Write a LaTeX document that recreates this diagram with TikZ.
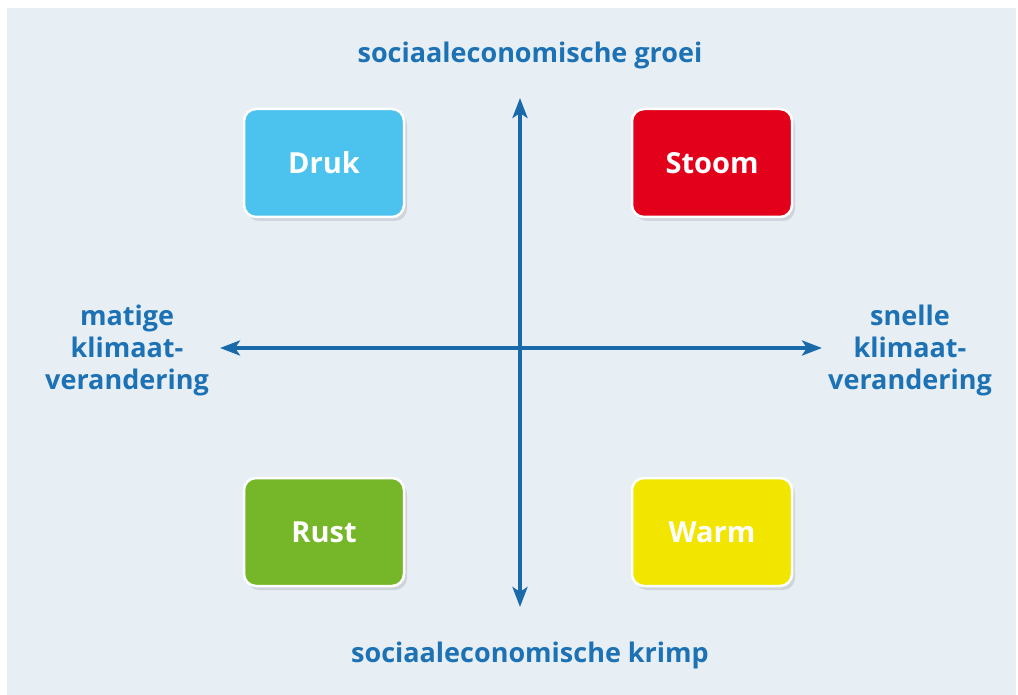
\documentclass[tikz,border=0pt]{standalone}
\usepackage{fontspec}
\setmainfont{Open Sans}
\usepackage{tikz}
\usetikzlibrary{arrows.meta,shadows}
\definecolor{axisblue}{HTML}{1A69AA}
\definecolor{textblue}{HTML}{1C72B4}
\definecolor{bgblue}{HTML}{E7EEF4}
\definecolor{drukblue}{HTML}{4CC3EE}
\definecolor{stoomred}{HTML}{E3001B}
\definecolor{rustgreen}{HTML}{76B72A}
\definecolor{warmyellow}{HTML}{F2E600}
\tikzset{
  box/.style={draw=white,line width=2.5pt,rounded corners=12pt,minimum width=160pt,minimum height=108pt,
    text=white,font=\fontsize{29}{30}\selectfont\bfseries,
    drop shadow={shadow xshift=3pt,shadow yshift=-4pt,opacity=0.18,fill=black!60}},
  axlab/.style={text=textblue,font=\fontsize{27}{32}\selectfont\bfseries,align=center},
  axis/.style={axisblue,line width=4pt,{Stealth[length=20pt,width=15pt,inset=5pt]}-{Stealth[length=20pt,width=15pt,inset=5pt]}},
}
\begin{document}
\begin{tikzpicture}[x=1pt,y=-1pt]
      \useasboundingbox (0,0) rectangle (1018,695);
      \fill[white] (0,0) rectangle (1018,695);
      \fill[bgblue] (7,8) rectangle (1016,695);
      % axes
      \coordinate (top) at (520,98);
      \coordinate (bot) at (520,607);
      \coordinate (lft) at (220,348);
      \coordinate (rgt) at (822,348);
      \draw[axis] (bot) -- (top);
      \draw[axis] (lft) -- (rgt);
      % scenarios
      \node[box,fill=drukblue] (druk) at (324,163) {Druk};
      \node[box,fill=stoomred] (stoom) at (712,163) {Stoom};
      \node[box,fill=rustgreen] (rust) at (324,532) {Rust};
      \node[box,fill=warmyellow] (warm) at (712,532) {Warm};
      % axis labels
      \node[axlab] (groei) at (530,55) {sociaaleconomische groei};
      \node[axlab] (krimp) at (530,655) {sociaaleconomische krimp};
      \node[axlab] (matig) at (127,350) {matige\\klimaat-\\verandering};
      \node[axlab] (snel) at (910,350) {snelle\\klimaat-\\verandering};
    \end{tikzpicture}
\end{document}
